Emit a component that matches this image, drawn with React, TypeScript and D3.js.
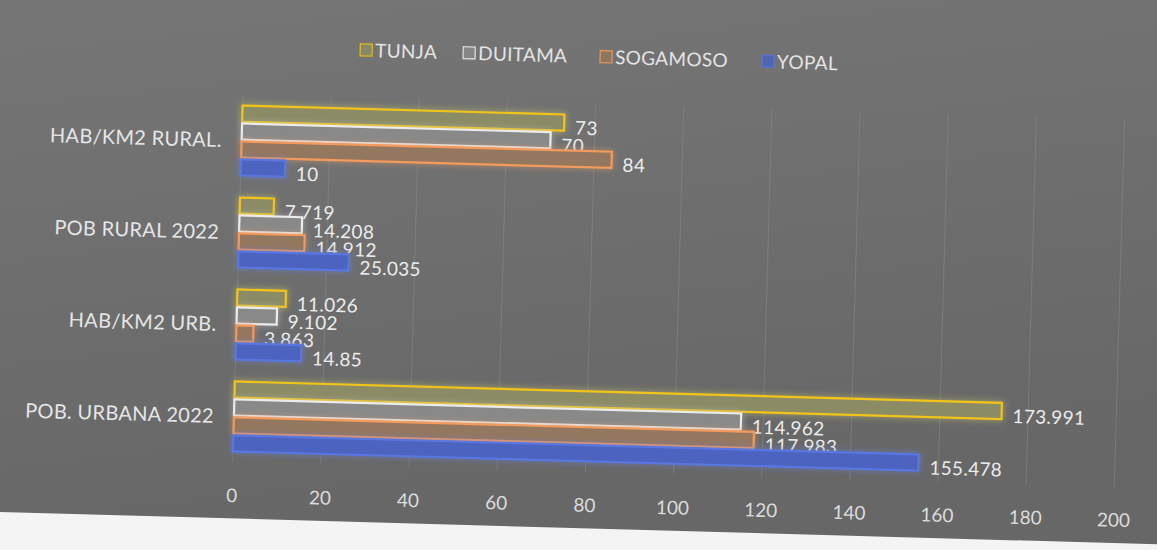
import React from "react";
import * as d3 from "d3";

const categories = ["HAB/KM2 RURAL.", "POB RURAL 2022", "HAB/KM2 URB.", "POB. URBANA 2022"];
const seriesNames = ["TUNJA", "DUITAMA", "SOGAMOSO", "YOPAL"];
const tunja = [73, 7.719, 11.026, 173.991];
const duitama = [70, 14.208, 9.102, 114.962];
const sogamoso = [84, 14.912, 3.863, 117.983];
const yopal = [10, 25.035, 14.85, 155.478];
const xTicks = [0, 20, 40, 60, 80, 100, 120, 140, 160, 180, 200];

const seriesValues = [tunja, duitama, sogamoso, yopal];
const styles = [
  { stroke: "#f2c41a", fill: "#8b8c66", glow: "#c8c46a" },
  { stroke: "#ececec", fill: "#898989", glow: "#bdbdbd" },
  { stroke: "#f49a5c", fill: "#94775f", glow: "#d69a70" },
  { stroke: "#5a76e0", fill: "#4d63c0", glow: "#6a80d8" },
];

const W = 1157;
const H = 550;
const FONT = "Lato, 'Open Sans', sans-serif";
const FS = 19;

export default function App() {
  const x = d3.scaleLinear().domain([0, 200]).range([238, 1120]);
  const y = d3.scaleBand().domain(categories).range([104, 472]).paddingInner(0.2).paddingOuter(0.1);
  const inner = d3.scaleBand().domain(seriesNames).range([0, y.bandwidth()]).padding(0.1);

  const legendX = [354, 457, 594, 756];

  return (
    <svg width={W} height={H} style={{ display: "block", position: "absolute", left: 0, top: 0 }}>
      <defs>
        <filter id="glow" x="-20%" y="-60%" width="140%" height="220%">
          <feGaussianBlur stdDeviation="3" />
        </filter>
        <linearGradient id="bg" x1="0" y1="0" x2="0.3" y2="1">
          <stop offset="0" stopColor="#787878" />
          <stop offset="1" stopColor="#676767" />
        </linearGradient>
      </defs>
      <rect x={0} y={0} width={W} height={H} fill="#f4f4f4" />
      <g transform={`rotate(1.6 ${W / 2} 275)`}>
        <rect x={-60} y={-60} width={W + 120} height={588} fill="url(#bg)" />
        {xTicks.map((t) => (
          <line key={t} x1={x(t)} x2={x(t)} y1={104} y2={472} stroke="#8e8e8e" strokeWidth={1} opacity={0.45} />
        ))}
        {seriesNames.map((s, i) => (
          <g key={s}>
            <rect x={legendX[i]} y={50} width={12} height={12} fill={styles[i].fill} stroke={styles[i].stroke} strokeWidth={1.3} opacity={0.85} />
            <text x={legendX[i] + 15} y={63} fill="#e4e4e4" fontSize={FS} fontFamily={FONT} letterSpacing={0.3}>
              {s}
            </text>
          </g>
        ))}
        {categories.map((c) => (
          <text key={c} x={218} y={(y(c) as number) + y.bandwidth() / 2} dy="0.35em" textAnchor="end" fill="#e6e6e6" fontSize={20} fontFamily={FONT} letterSpacing={0.3}>
            {c}
          </text>
        ))}
        {seriesNames.map((s, si) =>
          categories.map((c, ci) => {
            const v = seriesValues[si][ci];
            const by = (y(c) as number) + (inner(s) as number);
            const bh = inner.bandwidth();
            const bw = x(v) - x(0);
            return (
              <g key={s + c}>
                <rect x={x(0) - 2} y={by - 2} width={bw + 4} height={bh + 4} fill={styles[si].glow} opacity={0.5} filter="url(#glow)" />
                <rect x={x(0)} y={by} width={bw} height={bh} fill={styles[si].fill} stroke={styles[si].stroke} strokeWidth={2.2} />
                <text x={x(v) + 11} y={by + bh / 2 + 5} dy="0.35em" fill="#ececec" fontSize={FS} fontFamily={FONT} letterSpacing={0.3}>
                  {String(v)}
                </text>
              </g>
            );
          })
        )}
        {xTicks.map((t) => (
          <text key={t} x={x(t)} y={505} dy="0.35em" textAnchor="middle" fill="#dcdcdc" fontSize={FS} fontFamily={FONT}>
            {t}
          </text>
        ))}
      </g>
    </svg>
  );
}
